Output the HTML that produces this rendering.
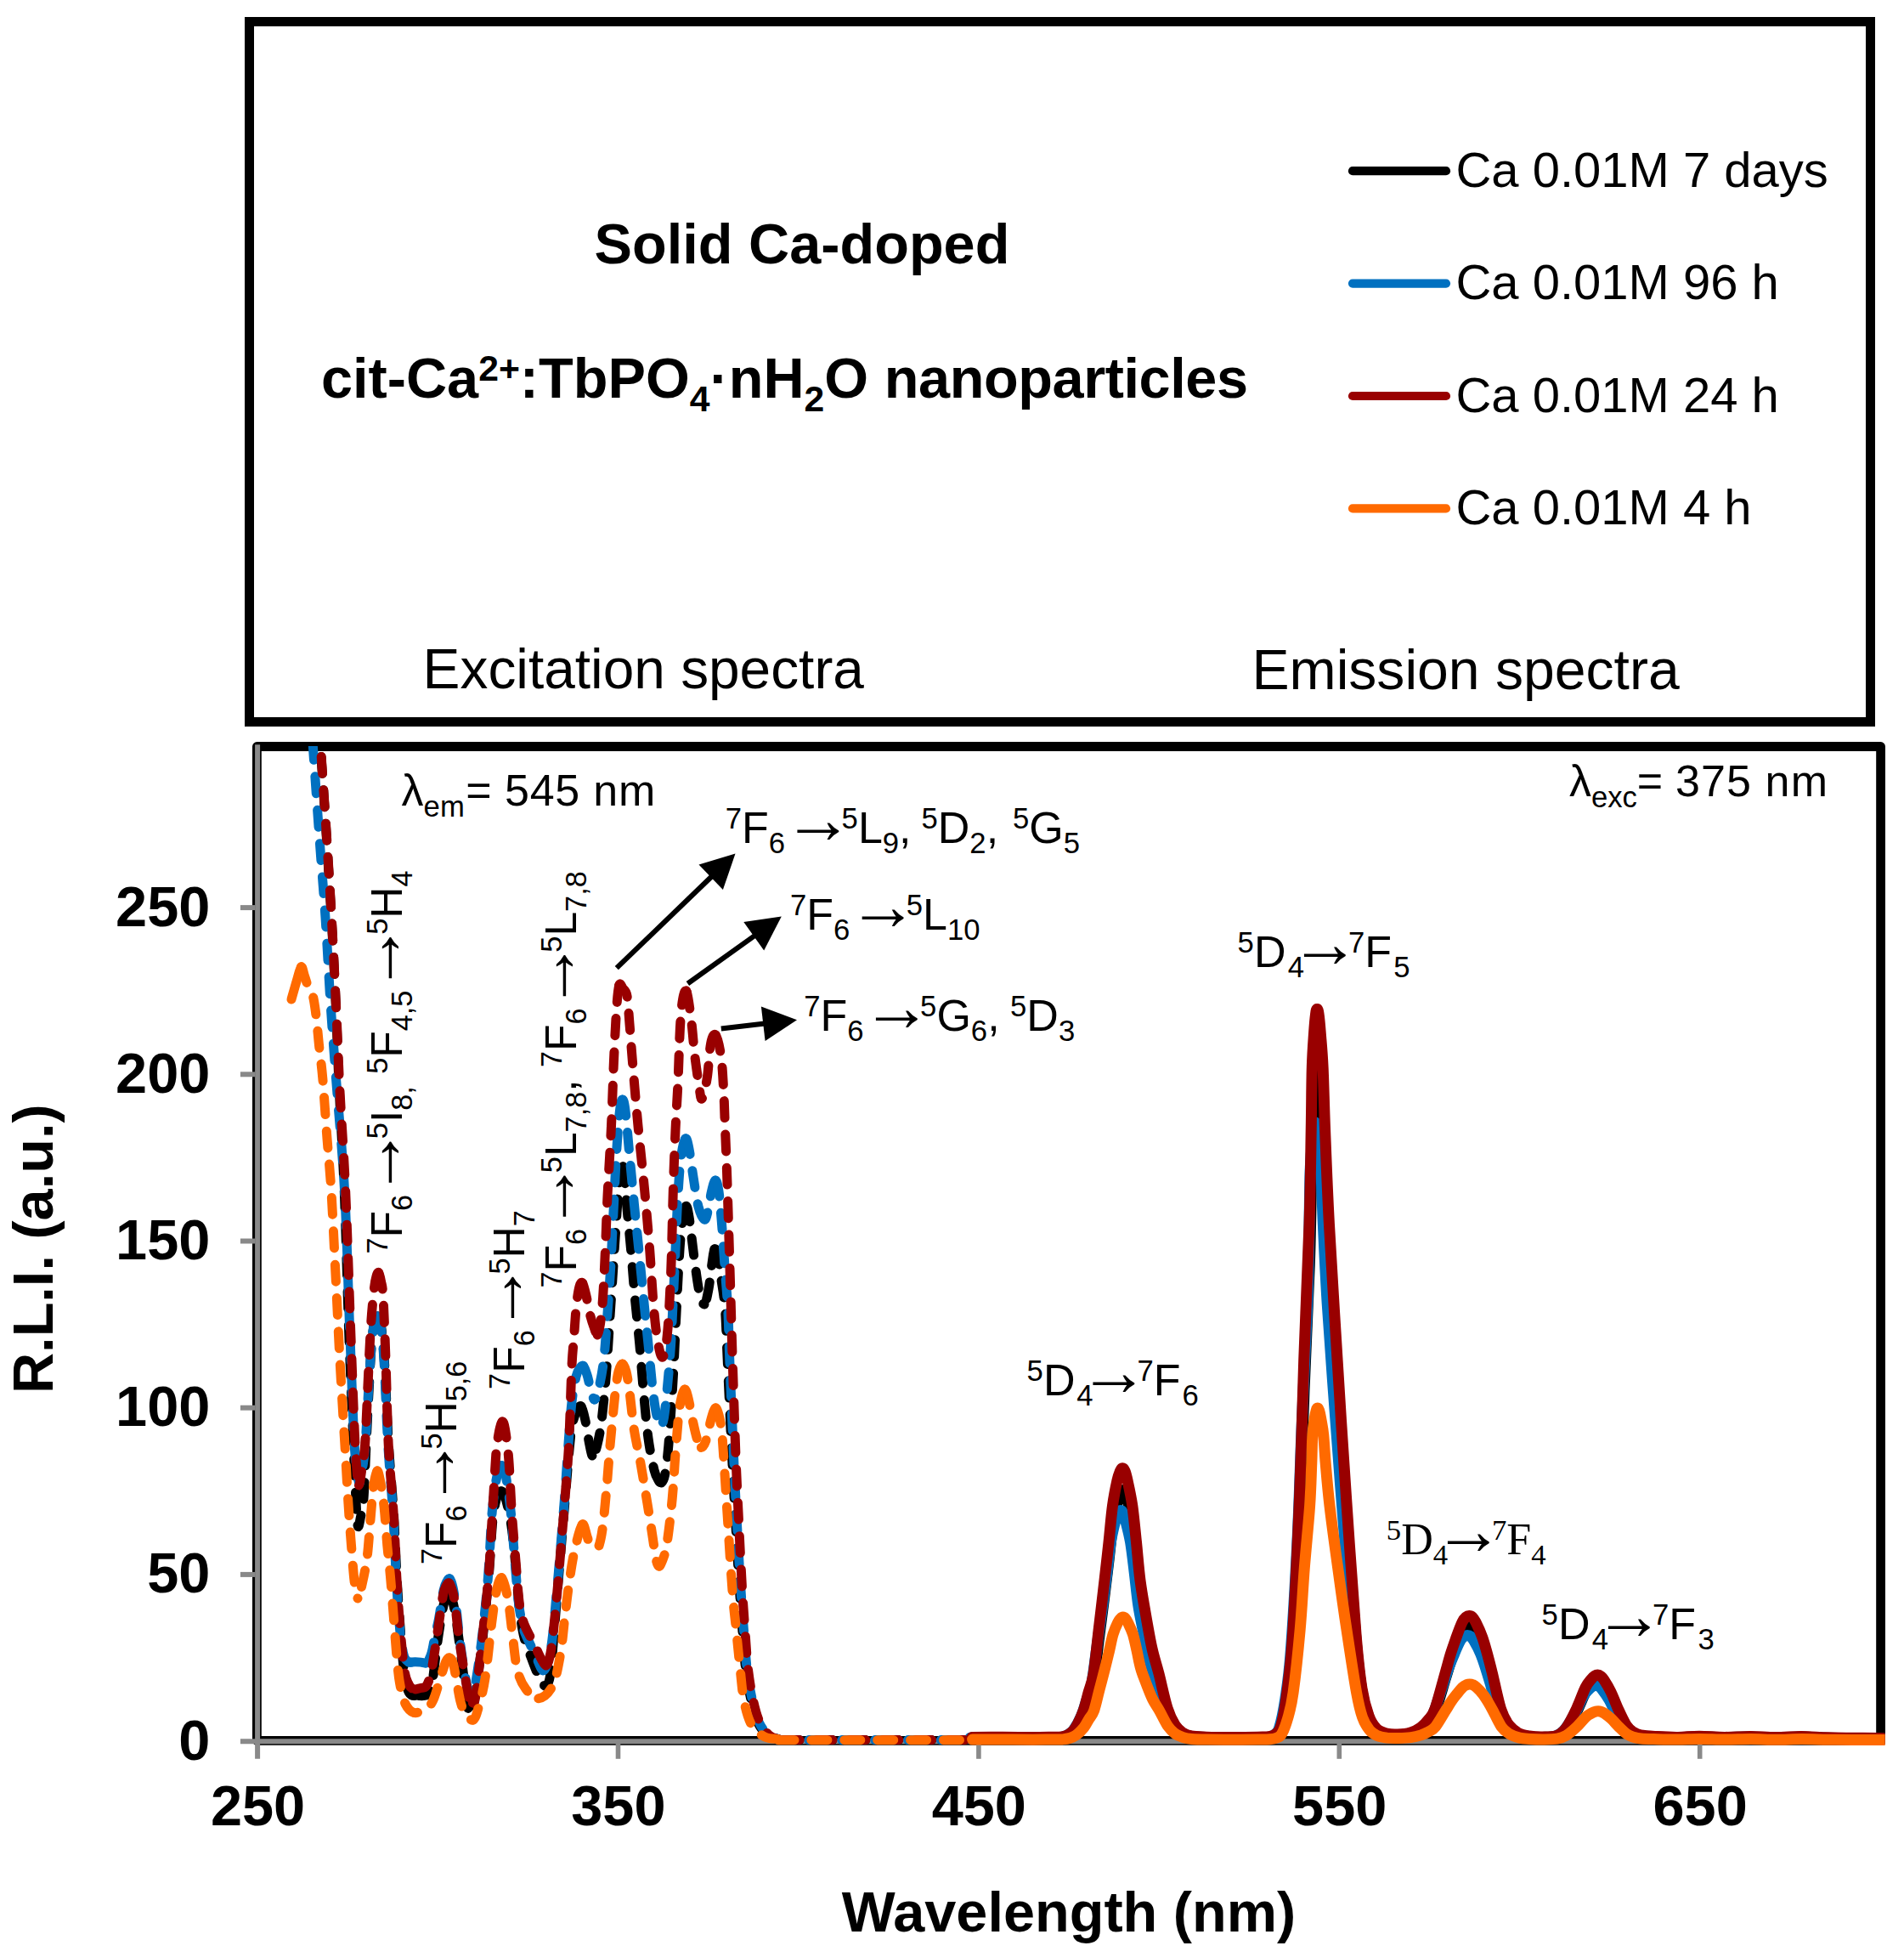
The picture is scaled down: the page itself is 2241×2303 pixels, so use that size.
<!DOCTYPE html>
<html lang="en"><head><meta charset="utf-8"><title>Solid Ca-doped cit-Ca2+:TbPO4·nH2O nanoparticles – excitation and emission spectra</title>
<style>html,body{margin:0;padding:0;background:#fff}body{width:2241px;height:2303px;overflow:hidden}svg{display:block}text{white-space:pre}</style>
</head><body>
<svg width="2241" height="2303" viewBox="0 0 2241 2303" font-family='"Liberation Sans", Arial, Helvetica, sans-serif' fill="#000">
<rect x="0" y="0" width="2241" height="2303" fill="#fff"/>
<rect x="293.5" y="25.5" width="1908" height="824" fill="none" stroke="#000" stroke-width="11"/>
<defs><clipPath id="pc"><rect x="302.4" y="878.0" width="1916.3" height="1181.9"/></clipPath></defs>
<rect x="302.4" y="878.5" width="1911.2" height="1169.9" fill="none" stroke="#000" stroke-width="10.8" stroke-linejoin="round"/>
<g stroke="#898989" stroke-width="6" fill="none">
<line x1="303.1" y1="876.3" x2="303.1" y2="2069.8"/>
<line x1="282.9" y1="2049.2" x2="2208.2" y2="2049.2"/>
<line x1="282.9" y1="1852.9" x2="300.2" y2="1852.9"/>
<line x1="282.9" y1="1656.7" x2="300.2" y2="1656.7"/>
<line x1="282.9" y1="1460.5" x2="300.2" y2="1460.5"/>
<line x1="282.9" y1="1264.3" x2="300.2" y2="1264.3"/>
<line x1="282.9" y1="1068.1" x2="300.2" y2="1068.1"/>
<line x1="727.5" y1="2052" x2="727.5" y2="2069.8" stroke-width="5.6"/>
<line x1="1151.9" y1="2052" x2="1151.9" y2="2069.8" stroke-width="5.6"/>
<line x1="1576.3" y1="2052" x2="1576.3" y2="2069.8" stroke-width="5.6"/>
<line x1="2000.7" y1="2052" x2="2000.7" y2="2069.8" stroke-width="5.6"/>
</g>
<g font-weight="bold" font-size="66.67">
<text x="247.3" y="2070.6" text-anchor="end">0</text>
<text x="247.3" y="1874.4" text-anchor="end">50</text>
<text x="247.3" y="1678.2" text-anchor="end">100</text>
<text x="247.3" y="1482.0" text-anchor="end">150</text>
<text x="247.3" y="1285.8" text-anchor="end">200</text>
<text x="247.3" y="1089.6" text-anchor="end">250</text>
<text x="303.5" y="2148.2" text-anchor="middle">250</text>
<text x="727.9" y="2148.2" text-anchor="middle">350</text>
<text x="1152.3" y="2148.2" text-anchor="middle">450</text>
<text x="1576.7" y="2148.2" text-anchor="middle">550</text>
<text x="2001.1" y="2148.2" text-anchor="middle">650</text>
<text x="1258" y="2273.4" text-anchor="middle">Wavelength (nm)</text>
<text transform="translate(61.6 1469.7) rotate(-90)" text-anchor="middle">R.L.I. (a.u.)</text>
</g>
<g clip-path="url(#pc)" fill="none" stroke-linecap="round" stroke-linejoin="round">
<g stroke="#000000" stroke-width="11" stroke-dasharray="20 19.4">
<path d="M378.0 890.5C379.1 906.2 382.3 953.4 384.3 985.0C386.3 1016.6 388.2 1046.7 390.1 1080.0C392.0 1113.3 393.9 1151.7 395.4 1185.0C396.9 1218.3 397.6 1244.2 399.2 1280.0C400.8 1315.8 403.3 1353.3 405.2 1400.0C407.1 1446.7 408.7 1511.7 410.4 1560.0C412.1 1608.3 414.3 1658.3 415.6 1690.0C416.9 1721.7 417.3 1732.5 418.2 1750.0C419.1 1767.5 419.9 1789.2 421.0 1795.0" stroke-dashoffset="0.0"/>
<path d="M421.0 1795.0C422.1 1800.8 423.3 1790.2 424.5 1785.0C425.7 1779.8 426.9 1777.7 428.0 1763.5C429.1 1749.3 429.9 1722.2 431.0 1700.0C432.1 1677.8 433.4 1650.0 434.5 1630.0C435.6 1610.0 436.4 1592.3 437.5 1580.0C438.6 1567.7 439.8 1561.2 441.0 1556.0C442.2 1550.8 443.4 1549.0 444.5 1549.0" stroke-dashoffset="4.4"/>
<path d="M444.5 1549.0C445.6 1549.0 446.6 1552.2 447.5 1556.0C448.4 1559.8 449.1 1562.7 450.0 1572.0C450.9 1581.3 451.8 1590.7 453.0 1612.0C454.2 1633.3 455.7 1671.7 457.4 1700.0C459.1 1728.3 461.8 1756.2 463.4 1782.0C465.0 1807.8 465.8 1833.6 467.0 1855.0C468.2 1876.4 469.3 1892.1 470.7 1910.6C472.1 1929.0 473.7 1952.1 475.5 1965.7C477.3 1979.3 478.6 1987.0 481.5 1992.0C484.4 1997.0 489.0 1995.3 493.0 1995.5" stroke-dashoffset="0.0"/>
<path d="M493.0 1995.5C497.0 1995.7 502.6 1996.4 505.4 1993.0C508.1 1989.6 508.2 1982.6 509.5 1975.0C510.8 1967.4 511.7 1957.4 513.0 1947.4C514.3 1937.4 515.8 1925.4 517.5 1915.0C519.2 1904.6 521.2 1891.7 523.0 1885.0C524.8 1878.3 526.5 1875.5 528.0 1875.0" stroke-dashoffset="3.9"/>
<path d="M528.0 1875.0C529.5 1874.5 530.7 1877.8 532.0 1882.0C533.3 1886.2 534.5 1891.0 536.0 1900.0C537.5 1909.0 539.2 1922.3 541.0 1936.0C542.8 1949.7 545.4 1970.0 547.0 1982.0C548.6 1994.0 549.4 2002.5 550.5 2008.0C551.6 2013.5 552.4 2015.0 553.5 2015.0" stroke-dashoffset="0.0"/>
<path d="M553.5 2015.0C554.6 2015.0 555.6 2014.7 557.0 2008.0C558.4 2001.3 560.2 1988.2 562.0 1975.0C563.8 1961.8 565.8 1948.9 568.0 1929.0C570.2 1909.1 573.2 1878.6 575.2 1855.4C577.2 1832.2 578.3 1805.1 579.8 1790.0C581.3 1774.9 582.7 1770.5 584.0 1765.0C585.3 1759.5 586.4 1758.7 587.5 1757.0C588.6 1755.3 589.5 1754.5 590.6 1755.0" stroke-dashoffset="29.9"/>
<path d="M590.6 1755.0C591.7 1755.5 592.8 1756.7 594.0 1760.0C595.2 1763.3 596.6 1768.3 598.0 1775.0C599.4 1781.7 601.0 1788.7 602.5 1800.0C604.0 1811.3 605.6 1828.0 607.0 1843.0C608.4 1858.0 609.7 1877.5 611.0 1890.0C612.3 1902.5 613.7 1910.7 615.0 1918.0C616.3 1925.3 617.3 1928.7 619.0 1934.0C620.7 1939.3 622.8 1944.3 625.0 1950.0C627.2 1955.7 629.8 1963.0 632.0 1968.0C634.2 1973.0 636.2 1977.3 638.0 1980.0C639.8 1982.7 641.4 1985.3 643.0 1984.0" stroke-dashoffset="0.0"/>
<path d="M643.0 1984.0C644.6 1982.7 646.2 1980.2 647.5 1972.0C648.8 1963.8 649.6 1951.4 651.0 1935.0C652.4 1918.6 654.4 1893.2 656.0 1873.8C657.6 1854.4 659.1 1837.1 660.6 1818.7C662.1 1800.3 663.7 1781.3 665.2 1763.5C666.7 1745.7 668.2 1725.9 669.5 1712.0C670.8 1698.1 671.6 1688.3 673.0 1680.0C674.4 1671.7 676.2 1666.2 678.0 1662.0C679.8 1657.8 682.2 1653.3 684.0 1655.0" stroke-dashoffset="0.1"/>
<path d="M684.0 1655.0C685.8 1656.7 687.4 1664.8 689.0 1672.0C690.6 1679.2 692.0 1691.0 693.5 1698.0C695.0 1705.0 696.2 1713.3 697.7 1714.0" stroke-dashoffset="0.0"/>
<path d="M697.7 1714.0C699.2 1714.7 700.8 1708.7 702.5 1702.0C704.2 1695.3 706.0 1687.8 707.8 1674.0C709.6 1660.2 711.8 1637.4 713.3 1619.0C714.8 1600.6 715.8 1582.2 717.0 1563.8C718.2 1545.4 719.5 1527.1 720.7 1508.7C721.9 1490.3 723.1 1471.6 724.3 1453.5C725.5 1435.4 726.9 1412.2 728.0 1400.0C729.1 1387.8 729.9 1384.5 730.8 1380.0C731.7 1375.5 732.7 1372.2 733.4 1373.0" stroke-dashoffset="29.8"/>
<path d="M733.4 1373.0C734.1 1373.8 734.5 1377.7 735.2 1385.0C735.9 1392.3 736.2 1402.3 737.5 1416.8C738.8 1431.3 741.1 1453.6 742.7 1472.0C744.3 1490.4 745.6 1508.7 747.3 1527.0C749.0 1545.3 751.1 1563.6 752.8 1582.0C754.5 1600.4 755.7 1619.0 757.4 1637.4C759.1 1655.8 760.9 1677.1 763.0 1692.5C765.1 1707.9 768.0 1721.8 770.0 1730.0C772.0 1738.2 773.6 1739.5 775.0 1742.0C776.4 1744.5 777.1 1746.0 778.4 1745.0" stroke-dashoffset="0.0"/>
<path d="M778.4 1745.0C779.6 1744.0 781.1 1743.2 782.5 1736.0C783.9 1728.8 785.1 1721.2 786.8 1701.7C788.4 1682.2 790.9 1645.0 792.4 1619.0C793.9 1593.0 794.9 1566.9 796.0 1545.4C797.1 1524.0 797.8 1506.7 798.8 1490.3C799.8 1473.9 800.6 1458.7 802.0 1447.0C803.4 1435.3 805.5 1422.5 807.0 1420.0" stroke-dashoffset="7.8"/>
<path d="M807.0 1420.0C808.5 1417.5 809.3 1422.0 811.0 1432.0C812.7 1442.0 815.0 1465.3 817.0 1480.0C819.0 1494.7 821.0 1510.8 823.0 1520.0C825.0 1529.2 827.2 1535.5 829.0 1535.0" stroke-dashoffset="0.0"/>
<path d="M829.0 1535.0C830.8 1534.5 832.5 1525.0 834.0 1517.0C835.5 1509.0 836.8 1494.8 838.0 1487.0C839.2 1479.2 839.8 1471.5 841.0 1470.0" stroke-dashoffset="32.3"/>
<path d="M841.0 1470.0C842.2 1468.5 843.7 1472.2 845.0 1478.0C846.3 1483.8 847.4 1494.7 848.8 1505.0C850.2 1515.3 852.2 1524.1 853.4 1540.0C854.6 1555.9 854.9 1572.1 856.2 1600.6C857.5 1629.1 859.8 1679.0 861.4 1710.9C863.0 1742.8 864.3 1766.2 865.8 1792.0C867.2 1817.8 868.7 1844.0 870.1 1865.4C871.5 1886.8 872.7 1903.8 874.0 1920.6C875.3 1937.4 876.2 1952.7 878.0 1966.5C879.8 1980.3 882.3 1993.2 884.6 2003.3C886.9 2013.4 888.9 2020.5 892.0 2027.0C895.1 2033.5 899.0 2038.7 903.0 2042.0C907.0 2045.3 913.8 2045.8 916.0 2046.6" stroke-dashoffset="0.0"/>
</g>
<path d="M916 2047.6H1146" stroke="#000000" stroke-width="11" stroke-dasharray="19 19.9" stroke-dashoffset="32.9"/>
<path d="M1144.3 2044.9C1150.3 2044.8 1168.5 2044.6 1180.3 2044.6C1192.1 2044.6 1205.3 2045.0 1215.3 2045.0C1225.3 2045.0 1234.5 2044.7 1240.3 2044.6C1246.1 2044.5 1247.3 2044.9 1250.3 2044.4C1253.3 2043.9 1255.6 2043.4 1258.3 2041.7C1261.0 2040.0 1263.5 2038.5 1266.3 2034.3C1269.1 2030.1 1272.8 2022.7 1275.3 2016.5C1277.8 2010.2 1279.3 2003.3 1281.3 1996.6C1283.3 1989.9 1285.2 1987.9 1287.3 1976.1C1289.4 1964.3 1291.6 1942.6 1293.8 1925.7C1296.0 1908.9 1298.4 1890.3 1300.3 1875.0C1302.2 1859.6 1303.7 1847.2 1305.3 1833.7C1306.9 1820.3 1308.1 1805.3 1309.8 1794.1C1311.5 1782.9 1313.8 1772.9 1315.3 1766.6C1316.8 1760.3 1317.8 1758.6 1318.8 1756.5C1319.8 1754.3 1320.5 1753.5 1321.4 1753.5C1322.3 1753.5 1323.3 1754.3 1324.3 1756.5C1325.3 1758.6 1325.8 1760.3 1327.3 1766.6C1328.8 1772.9 1331.3 1782.9 1333.1 1794.1C1334.8 1805.3 1336.3 1820.3 1337.8 1833.7C1339.3 1847.2 1340.5 1862.4 1342.3 1875.0C1344.0 1887.5 1346.0 1896.9 1348.3 1909.2C1350.6 1921.5 1353.6 1937.6 1356.3 1948.7C1359.0 1959.9 1361.3 1965.3 1364.3 1976.1C1367.3 1986.8 1371.1 2003.9 1374.3 2013.1C1377.5 2022.4 1380.3 2027.1 1383.3 2031.5C1386.3 2036.0 1389.1 2037.8 1392.3 2039.8C1395.5 2041.8 1397.6 2042.7 1402.3 2043.5C1407.0 2044.3 1412.3 2044.4 1420.3 2044.6C1428.3 2044.9 1440.3 2045.0 1450.3 2045.0C1460.3 2045.0 1473.0 2044.8 1480.3 2044.6C1487.6 2044.5 1490.6 2044.7 1494.3 2044.1C1498.0 2043.4 1500.0 2042.8 1502.3 2040.7C1504.6 2038.7 1506.1 2039.2 1508.3 2031.5C1510.5 2023.9 1513.0 2011.2 1515.3 1994.7C1517.5 1978.3 1519.4 1968.1 1521.8 1933.1C1524.2 1898.1 1527.6 1834.4 1529.8 1785.0C1532.0 1735.6 1533.1 1686.2 1535.0 1636.9C1536.9 1587.5 1539.9 1530.3 1541.3 1488.7C1542.7 1447.2 1543.0 1415.8 1543.5 1387.5C1544.0 1359.3 1544.0 1337.1 1544.6 1319.5C1545.2 1301.8 1546.2 1291.4 1546.9 1281.7C1547.6 1272.1 1548.3 1265.7 1548.9 1261.5C1549.5 1257.3 1549.9 1256.4 1550.5 1256.4C1551.1 1256.4 1551.6 1257.3 1552.3 1261.5C1553.0 1265.7 1553.7 1272.1 1554.5 1281.7C1555.3 1291.4 1556.5 1301.8 1557.4 1319.5C1558.3 1337.1 1558.7 1359.3 1559.9 1387.5C1561.1 1415.8 1562.3 1447.2 1564.7 1488.7C1567.1 1530.3 1571.0 1587.5 1574.4 1636.9C1577.7 1686.2 1581.1 1735.6 1584.8 1785.0C1588.5 1834.4 1593.2 1898.6 1596.3 1933.1C1599.4 1967.6 1600.8 1977.3 1603.3 1992.0C1605.8 2006.7 1608.5 2014.2 1611.3 2021.4C1614.1 2028.6 1616.8 2032.0 1620.3 2035.2C1623.8 2038.4 1628.1 2039.7 1632.3 2040.7C1636.5 2041.8 1640.6 2041.8 1645.3 2041.7C1650.0 2041.5 1655.8 2041.1 1660.3 2039.8C1664.8 2038.6 1668.8 2036.6 1672.3 2034.3C1675.8 2032.0 1678.5 2029.4 1681.3 2026.0C1684.1 2022.7 1686.0 2022.5 1689.3 2014.1C1692.6 2005.6 1698.2 1985.4 1701.3 1975.4C1704.4 1965.5 1705.6 1960.7 1707.8 1954.3C1710.0 1947.8 1712.0 1942.5 1714.3 1936.8C1716.5 1931.1 1719.4 1923.9 1721.3 1920.2C1723.2 1916.5 1724.4 1915.8 1725.8 1914.7C1727.2 1913.6 1728.2 1913.4 1729.5 1913.4C1730.8 1913.4 1732.0 1913.6 1733.3 1914.7C1734.6 1915.8 1735.3 1916.5 1737.3 1920.2C1739.3 1923.9 1742.8 1930.8 1745.1 1936.8C1747.4 1942.8 1749.4 1949.7 1751.3 1956.1C1753.2 1962.5 1754.1 1965.8 1756.7 1975.4C1759.3 1985.1 1763.5 2004.7 1766.8 2014.1C1770.1 2023.4 1772.7 2027.1 1776.3 2031.5C1779.9 2036.0 1784.3 2038.8 1788.3 2040.7C1792.3 2042.7 1795.8 2042.9 1800.3 2043.5C1804.8 2044.1 1810.0 2044.5 1815.3 2044.4C1820.6 2044.3 1827.6 2044.6 1832.3 2043.0C1837.0 2041.5 1839.4 2040.1 1843.3 2035.2C1847.2 2030.4 1852.0 2021.4 1855.8 2014.1C1859.6 2006.7 1863.4 1996.4 1866.3 1991.1C1869.2 1985.7 1871.5 1984.0 1873.3 1981.9C1875.1 1979.7 1876.0 1979.1 1877.3 1978.4C1878.5 1977.6 1879.6 1977.2 1880.8 1977.3C1882.0 1977.3 1883.0 1977.7 1884.3 1978.6C1885.5 1979.6 1886.3 1979.9 1888.3 1982.8C1890.3 1985.6 1893.5 1990.5 1896.3 1995.7C1899.0 2000.9 1901.8 2008.1 1904.8 2014.1C1907.8 2020.0 1911.4 2027.4 1914.3 2031.5C1917.2 2035.7 1919.5 2037.1 1922.3 2038.9C1925.1 2040.7 1926.6 2041.7 1931.3 2042.6C1936.0 2043.4 1943.0 2043.7 1950.3 2044.1C1957.6 2044.4 1967.0 2044.9 1975.3 2044.8C1983.6 2044.7 1991.1 2043.7 2000.3 2043.7C2009.5 2043.7 2020.3 2044.8 2030.3 2044.8C2040.3 2044.8 2050.3 2043.8 2060.3 2043.9C2070.3 2043.9 2080.3 2045.0 2090.3 2045.0C2100.3 2045.0 2110.3 2043.8 2120.3 2043.9C2130.3 2043.9 2140.3 2044.9 2150.3 2045.2C2160.3 2045.4 2170.0 2045.4 2180.3 2045.5C2190.6 2045.7 2204.3 2045.8 2212.3 2045.9C2220.3 2046.0 2225.6 2045.9 2228.3 2045.9" stroke="#000000" stroke-width="13"/>
<g stroke="#0070C0" stroke-width="11" stroke-dasharray="20 19.4">
<path d="M368.1 874.5C369.5 894.8 374.2 961.8 376.7 996.0C379.2 1030.2 380.9 1048.5 383.0 1080.0C385.1 1111.5 387.2 1153.5 389.3 1185.0C391.4 1216.5 392.8 1233.2 395.5 1269.0C398.2 1304.8 402.8 1351.5 405.5 1400.0C408.2 1448.5 409.6 1511.7 411.5 1560.0C413.4 1608.3 415.2 1662.0 416.6 1690.0C418.0 1718.0 418.9 1718.8 420.0 1728.0C421.1 1737.2 421.9 1745.0 423.0 1745.0" stroke-dashoffset="0.0"/>
<path d="M423.0 1745.0C424.1 1745.0 425.3 1735.5 426.5 1728.0C427.7 1720.5 428.8 1716.3 430.0 1700.0C431.2 1683.7 432.8 1650.0 434.0 1630.0C435.2 1610.0 436.4 1592.2 437.5 1580.0C438.6 1567.8 439.4 1562.2 440.5 1557.0C441.6 1551.8 442.7 1549.2 443.8 1549.0" stroke-dashoffset="18.9"/>
<path d="M443.8 1549.0C444.9 1548.8 446.1 1552.5 447.0 1556.0C447.9 1559.5 448.6 1561.0 449.5 1570.0C450.4 1579.0 451.3 1588.3 452.5 1610.0C453.7 1631.7 455.0 1671.3 456.7 1700.0C458.4 1728.7 461.1 1756.2 462.7 1782.0C464.3 1807.8 465.1 1833.6 466.3 1855.0C467.5 1876.4 468.6 1895.6 470.0 1910.6C471.4 1925.6 473.0 1937.7 474.5 1945.0C476.0 1952.3 477.2 1952.6 479.0 1954.5C480.8 1956.4 483.0 1956.1 485.0 1956.6C487.0 1957.0 489.0 1957.0 491.0 1957.2C493.0 1957.4 495.2 1957.5 497.0 1957.6C498.8 1957.7 500.2 1960.0 502.0 1957.9" stroke-dashoffset="0.0"/>
<path d="M502.0 1957.9C503.8 1955.8 506.3 1950.5 508.0 1945.0C509.7 1939.5 510.6 1931.7 512.0 1925.0C513.4 1918.3 514.8 1913.8 516.5 1905.0C518.2 1896.2 520.4 1879.3 522.0 1872.0C523.6 1864.7 524.8 1863.3 526.0 1861.0C527.2 1858.7 528.1 1856.8 529.3 1858.0" stroke-dashoffset="32.6"/>
<path d="M529.3 1858.0C530.5 1859.2 531.7 1862.2 533.0 1868.0C534.3 1873.8 535.7 1882.8 537.0 1893.0C538.3 1903.2 539.3 1916.2 541.0 1929.0C542.7 1941.8 545.3 1960.2 547.0 1970.0C548.7 1979.8 549.7 1984.1 551.0 1988.0C552.3 1991.9 553.7 1993.8 555.0 1993.3" stroke-dashoffset="0.0"/>
<path d="M555.0 1993.3C556.3 1992.8 557.0 1995.7 559.0 1985.0C561.0 1974.3 564.5 1950.6 567.1 1929.0C569.7 1907.4 572.5 1879.9 574.5 1855.4C576.5 1830.9 577.5 1800.4 579.0 1782.0C580.5 1763.6 582.2 1753.7 583.5 1745.0C584.8 1736.3 585.8 1733.4 587.0 1730.0C588.2 1726.6 589.4 1724.4 590.6 1724.6" stroke-dashoffset="22.0"/>
<path d="M590.6 1724.6C591.8 1724.8 592.9 1726.8 594.0 1731.0C595.1 1735.2 596.2 1741.5 597.5 1750.0C598.8 1758.5 600.1 1767.5 601.5 1782.0C602.9 1796.5 604.6 1820.2 606.0 1837.0C607.4 1853.8 608.7 1871.2 610.0 1883.0C611.3 1894.8 612.7 1901.5 614.0 1908.0C615.3 1914.5 616.3 1917.5 618.0 1922.0C619.7 1926.5 621.8 1930.3 624.0 1935.0C626.2 1939.7 628.5 1944.9 631.0 1950.0C633.5 1955.1 636.7 1964.9 639.0 1965.7" stroke-dashoffset="0.0"/>
<path d="M639.0 1965.7C641.3 1966.5 643.2 1961.1 645.0 1955.0C646.8 1948.9 648.3 1942.5 650.0 1929.0C651.7 1915.5 653.6 1892.2 655.3 1873.8C657.0 1855.4 658.5 1837.1 660.0 1818.7C661.5 1800.3 663.0 1783.5 664.5 1763.5C666.0 1743.5 667.6 1717.9 669.0 1699.0C670.4 1680.1 671.5 1663.2 673.0 1650.0C674.5 1636.8 676.4 1626.7 678.0 1620.0C679.6 1613.3 681.0 1612.1 682.5 1610.0C684.0 1607.9 685.3 1606.3 686.7 1607.6" stroke-dashoffset="8.0"/>
<path d="M686.7 1607.6C688.1 1608.9 689.5 1613.3 691.0 1618.0C692.5 1622.7 694.1 1631.2 695.5 1636.0C696.9 1640.8 698.1 1646.8 699.5 1647.0" stroke-dashoffset="0.0"/>
<path d="M699.5 1647.0C700.9 1647.2 702.1 1644.7 704.0 1637.0C705.9 1629.3 708.8 1615.9 710.6 1600.6C712.4 1585.3 713.6 1563.8 715.0 1545.4C716.4 1527.0 717.5 1511.4 718.8 1490.0C720.0 1468.6 721.3 1440.1 722.5 1416.8C723.7 1393.5 724.8 1368.3 726.0 1350.0C727.2 1331.7 728.4 1316.3 729.5 1307.0C730.6 1297.7 731.5 1294.0 732.6 1294.0" stroke-dashoffset="18.3"/>
<path d="M732.6 1294.0C733.7 1294.0 734.6 1296.0 736.0 1307.0C737.4 1318.0 739.3 1341.7 741.0 1360.0C742.7 1378.3 744.6 1398.1 746.4 1416.8C748.2 1435.5 750.2 1453.6 752.0 1472.0C753.8 1490.4 755.6 1508.7 757.4 1527.0C759.2 1545.3 761.1 1563.6 763.0 1582.0C764.9 1600.4 766.8 1623.4 768.5 1637.4C770.2 1651.4 771.5 1659.3 773.0 1666.0C774.5 1672.7 776.2 1677.5 777.6 1677.8" stroke-dashoffset="0.0"/>
<path d="M777.6 1677.8C779.0 1678.1 780.3 1674.7 781.5 1668.0C782.7 1661.3 783.6 1651.7 785.0 1637.4C786.4 1623.1 788.4 1600.4 789.6 1582.0C790.8 1563.6 791.5 1545.3 792.4 1527.0C793.3 1508.7 794.1 1491.9 795.0 1472.0C795.9 1452.1 796.8 1425.9 797.9 1407.6C799.0 1389.3 800.0 1373.3 801.5 1362.0C803.0 1350.7 805.1 1341.7 806.7 1340.0" stroke-dashoffset="34.1"/>
<path d="M806.7 1340.0C808.3 1338.3 809.5 1344.5 811.0 1352.0C812.5 1359.5 814.2 1373.7 816.0 1385.0C817.8 1396.3 819.8 1411.7 822.0 1420.0C824.2 1428.3 827.2 1434.0 829.0 1435.0" stroke-dashoffset="0.0"/>
<path d="M829.0 1435.0C830.8 1436.0 831.6 1431.5 833.0 1426.0C834.4 1420.5 836.0 1408.2 837.5 1402.0C839.0 1395.8 840.6 1389.0 842.0 1389.0" stroke-dashoffset="10.4"/>
<path d="M842.0 1389.0C843.4 1389.0 844.8 1393.5 846.0 1402.0C847.2 1410.5 848.3 1425.3 849.5 1440.0C850.7 1454.7 851.8 1473.3 853.0 1490.0C854.2 1506.7 855.7 1521.6 856.7 1540.0C857.7 1558.4 857.7 1572.1 858.8 1600.6C859.9 1629.1 862.0 1679.0 863.4 1710.9C864.8 1742.8 866.0 1766.2 867.4 1792.0C868.8 1817.8 870.2 1844.0 871.6 1865.4C873.0 1886.8 874.3 1903.8 875.6 1920.6C876.9 1937.4 877.8 1952.7 879.5 1966.5C881.2 1980.3 883.7 1993.2 886.0 2003.3C888.3 2013.4 890.3 2020.5 893.4 2027.0C896.5 2033.5 900.6 2038.7 904.4 2042.0C908.2 2045.3 914.1 2045.8 916.0 2046.6" stroke-dashoffset="0.0"/>
<path d="M481 1956.2C488 1955.2 494 1955.4 501 1957.2" stroke-dasharray="none"/>
</g>
<path d="M916 2047.6H1146" stroke="#0070C0" stroke-width="11" stroke-dasharray="19 19.9" stroke-dashoffset="3"/>
<path d="M1141.8 2045.2C1147.8 2045.2 1166.0 2045.0 1177.8 2045.0C1189.6 2045.0 1202.8 2045.3 1212.8 2045.3C1222.8 2045.3 1232.0 2045.1 1237.8 2045.0C1243.6 2044.9 1244.8 2045.3 1247.8 2044.8C1250.8 2044.4 1253.1 2043.8 1255.8 2042.3C1258.5 2040.7 1261.0 2039.4 1263.8 2035.5C1266.6 2031.7 1270.3 2024.9 1272.8 2019.1C1275.3 2013.4 1276.8 2007.1 1278.8 2000.9C1280.8 1994.7 1282.7 1992.9 1284.8 1982.0C1286.9 1971.2 1289.1 1951.3 1291.3 1935.8C1293.5 1920.3 1295.9 1903.3 1297.8 1889.2C1299.7 1875.1 1301.2 1863.7 1302.8 1851.3C1304.4 1838.9 1305.6 1825.2 1307.3 1814.9C1309.0 1804.6 1311.3 1795.4 1312.8 1789.6C1314.3 1783.9 1315.3 1782.3 1316.3 1780.3C1317.3 1778.3 1318.0 1777.6 1318.9 1777.6C1319.8 1777.6 1320.8 1778.3 1321.8 1780.3C1322.8 1782.3 1323.3 1783.9 1324.8 1789.6C1326.3 1795.4 1328.8 1804.6 1330.6 1814.9C1332.3 1825.2 1333.8 1838.9 1335.3 1851.3C1336.8 1863.7 1338.0 1877.6 1339.8 1889.2C1341.5 1900.7 1343.5 1909.3 1345.8 1920.6C1348.1 1931.9 1351.1 1946.7 1353.8 1956.9C1356.5 1967.2 1358.8 1972.2 1361.8 1982.0C1364.8 1991.9 1368.6 2007.6 1371.8 2016.1C1375.0 2024.6 1377.8 2028.9 1380.8 2033.0C1383.8 2037.1 1386.6 2038.8 1389.8 2040.6C1393.0 2042.4 1395.1 2043.2 1399.8 2044.0C1404.5 2044.7 1409.8 2044.8 1417.8 2045.0C1425.8 2045.2 1437.8 2045.3 1447.8 2045.3C1457.8 2045.3 1470.5 2045.1 1477.8 2045.0C1485.1 2044.8 1488.1 2045.1 1491.8 2044.5C1495.5 2043.9 1497.5 2043.4 1499.8 2041.4C1502.1 2039.5 1503.6 2040.0 1505.8 2033.0C1508.0 2025.9 1510.5 2014.3 1512.8 1999.2C1515.0 1984.1 1516.9 1974.7 1519.3 1942.6C1521.7 1910.5 1525.1 1851.9 1527.3 1806.5C1529.5 1761.2 1530.6 1715.8 1532.5 1670.5C1534.4 1625.1 1537.4 1572.6 1538.8 1534.4C1540.2 1496.3 1540.5 1467.4 1541.0 1441.5C1541.5 1415.6 1541.5 1395.2 1542.1 1379.0C1542.7 1362.8 1543.7 1353.2 1544.4 1344.3C1545.1 1335.4 1545.8 1329.6 1546.4 1325.7C1547.0 1321.8 1547.4 1321.0 1548.0 1321.0C1548.6 1321.0 1549.1 1321.8 1549.8 1325.7C1550.5 1329.6 1551.2 1335.4 1552.0 1344.3C1552.8 1353.2 1554.0 1362.8 1554.9 1379.0C1555.8 1395.2 1556.2 1415.6 1557.4 1441.5C1558.6 1467.4 1559.8 1496.3 1562.2 1534.4C1564.6 1572.6 1568.5 1625.1 1571.9 1670.5C1575.2 1715.8 1578.6 1761.2 1582.3 1806.5C1586.0 1851.9 1590.7 1910.9 1593.8 1942.6C1596.9 1974.3 1598.3 1983.1 1600.8 1996.7C1603.3 2010.2 1606.0 2017.1 1608.8 2023.7C1611.6 2030.3 1614.3 2033.4 1617.8 2036.4C1621.3 2039.3 1625.6 2040.5 1629.8 2041.4C1634.0 2042.4 1638.1 2042.4 1642.8 2042.3C1647.5 2042.1 1653.3 2041.7 1657.8 2040.6C1662.3 2039.5 1666.3 2037.6 1669.8 2035.5C1673.3 2033.4 1676.0 2031.0 1678.8 2027.9C1681.6 2024.8 1683.5 2024.7 1686.8 2016.9C1690.1 2009.2 1695.7 1990.6 1698.8 1981.4C1701.9 1972.3 1703.1 1967.9 1705.3 1962.0C1707.5 1956.1 1709.5 1951.2 1711.8 1946.0C1714.0 1940.7 1716.9 1934.1 1718.8 1930.7C1720.7 1927.4 1721.9 1926.7 1723.3 1925.7C1724.7 1924.6 1725.8 1924.5 1727.0 1924.5C1728.2 1924.5 1729.5 1924.6 1730.8 1925.7C1732.1 1926.7 1732.8 1927.4 1734.8 1930.7C1736.8 1934.1 1740.3 1940.5 1742.6 1946.0C1744.9 1951.4 1746.9 1957.8 1748.8 1963.7C1750.7 1969.6 1751.6 1972.6 1754.2 1981.4C1756.8 1990.3 1761.0 2008.3 1764.3 2016.9C1767.6 2025.5 1770.2 2028.9 1773.8 2033.0C1777.4 2037.1 1781.8 2039.6 1785.8 2041.4C1789.8 2043.3 1793.3 2043.4 1797.8 2044.0C1802.3 2044.5 1807.5 2044.9 1812.8 2044.8C1818.1 2044.8 1825.1 2045.0 1829.8 2043.6C1834.5 2042.1 1836.9 2040.8 1840.8 2036.4C1844.7 2031.9 1849.5 2023.7 1853.3 2016.9C1857.1 2010.2 1860.9 2000.7 1863.8 1995.8C1866.7 1990.9 1869.0 1989.3 1870.8 1987.4C1872.6 1985.4 1873.5 1984.9 1874.8 1984.2C1876.0 1983.4 1877.1 1983.1 1878.3 1983.1C1879.5 1983.2 1880.5 1983.6 1881.8 1984.4C1883.0 1985.2 1883.8 1985.6 1885.8 1988.2C1887.8 1990.8 1891.0 1995.2 1893.8 2000.0C1896.5 2004.8 1899.3 2011.4 1902.3 2016.9C1905.3 2022.4 1908.9 2029.2 1911.8 2033.0C1914.7 2036.8 1917.0 2038.1 1919.8 2039.8C1922.6 2041.4 1924.1 2042.3 1928.8 2043.1C1933.5 2043.9 1940.5 2044.1 1947.8 2044.5C1955.1 2044.8 1964.5 2045.2 1972.8 2045.2C1981.1 2045.1 1988.6 2044.1 1997.8 2044.1C2007.0 2044.1 2017.8 2045.1 2027.8 2045.2C2037.8 2045.2 2047.8 2044.3 2057.8 2044.3C2067.8 2044.3 2077.8 2045.3 2087.8 2045.3C2097.8 2045.3 2107.8 2044.3 2117.8 2044.3C2127.8 2044.3 2137.8 2045.2 2147.8 2045.5C2157.8 2045.8 2167.5 2045.7 2177.8 2045.8C2188.1 2045.9 2201.8 2046.1 2209.8 2046.2C2217.8 2046.2 2223.1 2046.2 2225.8 2046.2" stroke="#0070C0" stroke-width="13"/>
<g stroke="#990000" stroke-width="11" stroke-dasharray="20 19.4">
<path d="M378.2 890.5C379.2 906.2 382.5 953.4 384.5 985.0C386.5 1016.6 388.4 1046.7 390.3 1080.0C392.2 1113.3 394.0 1151.7 395.6 1185.0C397.2 1218.3 398.0 1244.2 399.8 1280.0C401.6 1315.8 404.5 1353.3 406.6 1400.0C408.7 1446.7 410.7 1511.7 412.5 1560.0C414.3 1608.3 416.2 1661.7 417.5 1690.0C418.8 1718.3 419.2 1720.3 420.0 1730.0C420.8 1739.7 421.5 1748.3 422.5 1748.0" stroke-dashoffset="0.0"/>
<path d="M422.5 1748.0C423.5 1747.7 424.8 1736.0 426.0 1728.0C427.2 1720.0 428.4 1716.3 429.6 1700.0C430.8 1683.7 431.9 1653.3 433.0 1630.0C434.1 1606.7 435.3 1578.8 436.5 1560.0C437.7 1541.2 439.2 1526.7 440.3 1517.0C441.4 1507.3 442.1 1505.2 443.0 1502.0C443.9 1498.8 444.8 1496.7 445.7 1497.7" stroke-dashoffset="3.4"/>
<path d="M445.7 1497.7C446.6 1498.7 447.6 1503.1 448.5 1508.0C449.4 1512.9 450.1 1511.7 451.0 1527.0C451.9 1542.3 453.0 1571.2 454.0 1600.0C455.0 1628.8 455.7 1669.7 457.2 1700.0C458.7 1730.3 461.6 1756.2 463.2 1782.0C464.8 1807.8 465.6 1833.6 466.8 1855.0C468.0 1876.4 469.0 1892.1 470.5 1910.6C472.0 1929.0 474.2 1953.8 476.0 1965.7C477.8 1977.6 479.2 1978.3 481.0 1982.0C482.8 1985.7 484.7 1987.0 487.0 1987.8" stroke-dashoffset="0.0"/>
<path d="M487.0 1987.8C489.3 1988.5 492.5 1987.1 495.0 1986.5C497.5 1985.9 499.8 1986.8 501.8 1984.0C503.8 1981.2 505.5 1976.1 507.0 1970.0C508.5 1963.9 509.4 1957.3 511.0 1947.4C512.6 1937.5 514.7 1922.7 516.5 1910.6C518.3 1898.5 520.2 1882.9 522.0 1875.0C523.8 1867.1 526.0 1864.2 527.5 1863.0" stroke-dashoffset="37.2"/>
<path d="M527.5 1863.0C529.0 1861.8 529.8 1864.7 531.0 1868.0C532.2 1871.3 533.3 1872.8 534.9 1883.0C536.5 1893.2 538.3 1913.7 540.4 1929.0C542.5 1944.3 545.8 1963.5 547.7 1975.0C549.6 1986.5 550.6 1993.2 552.0 1998.0C553.4 2002.8 554.7 2004.5 556.0 2004.0" stroke-dashoffset="0.0"/>
<path d="M556.0 2004.0C557.3 2003.5 558.1 2007.5 560.0 1995.0C561.9 1982.5 565.1 1952.3 567.6 1929.0C570.1 1905.7 573.0 1879.9 575.0 1855.4C577.0 1830.9 578.0 1806.5 579.5 1782.0C581.0 1757.5 582.9 1723.4 584.0 1708.4C585.1 1693.4 585.5 1696.7 586.2 1692.0C587.0 1687.3 587.6 1683.2 588.5 1680.0C589.4 1676.8 590.4 1672.7 591.4 1673.0" stroke-dashoffset="39.1"/>
<path d="M591.4 1673.0C592.4 1673.3 593.3 1674.6 594.5 1682.0C595.7 1689.4 597.5 1700.9 598.8 1717.6C600.1 1734.3 601.1 1762.1 602.5 1782.0C603.9 1801.9 605.6 1820.2 607.0 1837.0C608.4 1853.8 609.5 1871.7 610.8 1883.0C612.1 1894.3 613.6 1899.5 615.0 1905.0C616.4 1910.5 617.4 1912.3 619.0 1916.0C620.6 1919.7 622.4 1922.7 624.6 1927.0C626.8 1931.3 629.8 1937.5 632.0 1942.0C634.2 1946.5 636.2 1951.0 638.0 1954.0C639.8 1957.0 641.5 1960.7 643.0 1960.0" stroke-dashoffset="0.0"/>
<path d="M643.0 1960.0C644.5 1959.3 645.8 1955.2 647.0 1950.0C648.2 1944.8 648.8 1941.7 650.3 1929.0C651.8 1916.3 654.1 1892.2 655.8 1873.8C657.5 1855.4 658.9 1837.1 660.4 1818.7C661.9 1800.3 663.5 1783.5 665.0 1763.5C666.5 1743.5 668.3 1724.6 669.6 1699.0C670.9 1673.4 671.9 1630.8 672.9 1609.8C673.9 1588.8 674.7 1585.2 675.6 1573.0C676.5 1560.8 677.3 1546.1 678.4 1536.3C679.5 1526.5 680.8 1518.4 682.0 1514.0C683.2 1509.6 684.4 1508.2 685.7 1510.0" stroke-dashoffset="37.1"/>
<path d="M685.7 1510.0C687.0 1511.8 688.5 1518.5 690.0 1525.0C691.5 1531.5 693.4 1542.7 695.0 1549.0C696.6 1555.3 698.1 1559.3 699.5 1563.0C700.9 1566.7 702.0 1571.8 703.2 1571.0" stroke-dashoffset="0.0"/>
<path d="M703.2 1571.0C704.4 1570.2 705.4 1565.3 706.5 1558.0C707.6 1550.7 708.6 1541.3 709.6 1527.0C710.6 1512.7 711.5 1491.9 712.4 1472.0C713.3 1452.1 713.8 1432.1 715.0 1407.6C716.2 1383.1 718.3 1351.3 719.5 1325.0C720.7 1298.7 721.4 1272.5 722.4 1250.0C723.4 1227.5 724.5 1205.1 725.5 1190.0C726.5 1174.9 727.5 1164.1 728.7 1159.6" stroke-dashoffset="1.3"/>
<path d="M728.7 1159.6C730.0 1155.1 731.5 1160.9 733.0 1163.0C734.5 1165.1 736.7 1165.0 738.0 1172.0C739.3 1179.0 739.9 1192.0 741.0 1205.0C742.1 1218.0 742.8 1230.0 744.5 1250.0C746.2 1270.0 748.6 1300.0 751.0 1325.0C753.4 1350.0 756.3 1375.5 758.6 1400.0C760.9 1424.5 763.1 1450.8 764.8 1472.0C766.4 1493.2 767.3 1511.7 768.5 1527.0C769.7 1542.3 770.8 1553.6 772.0 1563.8C773.2 1574.0 774.8 1582.5 776.0 1588.0C777.2 1593.5 778.3 1597.0 779.5 1597.0" stroke-dashoffset="0.0"/>
<path d="M779.5 1597.0C780.7 1597.0 781.9 1593.5 783.0 1588.0C784.1 1582.5 785.0 1575.5 786.0 1563.8C787.0 1552.1 788.0 1533.2 788.7 1517.9C789.5 1502.6 789.9 1491.9 790.5 1472.0C791.1 1452.1 791.6 1422.1 792.4 1398.4C793.1 1374.7 794.1 1350.8 795.0 1330.0C795.9 1309.2 797.1 1293.2 798.0 1273.3C798.9 1253.3 799.5 1226.5 800.4 1210.3C801.3 1194.1 802.3 1183.2 803.6 1176.0C804.9 1168.8 806.6 1163.0 808.3 1167.4" stroke-dashoffset="17.8"/>
<path d="M808.3 1167.4C810.0 1171.8 812.2 1190.0 813.8 1202.4C815.4 1214.8 816.1 1228.7 817.7 1241.8C819.3 1254.9 821.9 1272.7 823.2 1281.2C824.5 1289.7 824.6 1292.4 825.6 1293.0" stroke-dashoffset="0.0"/>
<path d="M825.6 1293.0C826.6 1293.6 827.8 1289.6 829.0 1285.0C830.2 1280.4 831.4 1274.9 832.7 1265.4C834.0 1255.9 835.0 1235.9 836.6 1228.0C838.2 1220.1 840.2 1215.6 842.2 1217.9" stroke-dashoffset="18.9"/>
<path d="M842.2 1217.9C844.2 1220.2 846.9 1231.2 848.5 1241.8C850.1 1252.3 850.8 1268.1 851.6 1281.2C852.4 1294.3 852.7 1307.5 853.2 1320.6C853.7 1333.7 854.3 1346.9 854.8 1360.0C855.3 1373.1 855.4 1374.2 856.2 1399.0C857.0 1423.8 858.5 1475.1 859.5 1508.7C860.5 1542.3 861.1 1566.9 862.2 1600.6C863.3 1634.3 864.7 1679.0 865.9 1710.9C867.1 1742.8 868.4 1766.2 869.6 1792.0C870.8 1817.8 872.1 1844.0 873.3 1865.4C874.5 1886.8 875.8 1903.8 877.0 1920.6C878.2 1937.4 879.0 1952.7 880.7 1966.5C882.4 1980.3 884.7 1993.2 887.0 2003.3C889.3 2013.4 891.3 2020.5 894.4 2027.0C897.5 2033.5 901.8 2038.7 905.4 2042.0C909.0 2045.3 914.2 2045.8 916.0 2046.6" stroke-dashoffset="0.0"/>
</g>
<path d="M916 2047.6H1146" stroke="#990000" stroke-width="11" stroke-dasharray="19 19.9" stroke-dashoffset="32.9"/>
<path d="M1144.0 2044.5C1150.0 2044.5 1168.2 2044.2 1180.0 2044.2C1191.8 2044.2 1205.0 2044.6 1215.0 2044.6C1225.0 2044.6 1234.2 2044.3 1240.0 2044.2C1245.8 2044.1 1247.0 2044.5 1250.0 2044.0C1253.0 2043.5 1255.3 2042.8 1258.0 2041.0C1260.7 2039.2 1263.2 2037.6 1266.0 2033.0C1268.8 2028.4 1272.5 2020.4 1275.0 2013.6C1277.5 2006.8 1279.0 1999.3 1281.0 1992.0C1283.0 1984.7 1284.9 1982.5 1287.0 1969.7C1289.1 1956.9 1291.3 1933.3 1293.5 1915.0C1295.7 1896.7 1298.1 1876.5 1300.0 1859.8C1301.9 1843.1 1303.4 1829.7 1305.0 1815.0C1306.6 1800.3 1307.8 1784.1 1309.5 1771.9C1311.2 1759.7 1313.5 1748.8 1315.0 1742.0C1316.5 1735.2 1317.5 1733.4 1318.5 1731.0C1319.5 1728.6 1320.2 1727.8 1321.1 1727.8C1322.0 1727.8 1323.0 1728.6 1324.0 1731.0C1325.0 1733.4 1325.5 1735.2 1327.0 1742.0C1328.5 1748.8 1331.0 1759.7 1332.8 1771.9C1334.5 1784.1 1336.0 1800.3 1337.5 1815.0C1339.0 1829.7 1340.2 1846.1 1342.0 1859.8C1343.8 1873.5 1345.7 1883.6 1348.0 1897.0C1350.3 1910.4 1353.3 1927.9 1356.0 1940.0C1358.7 1952.1 1361.0 1958.0 1364.0 1969.7C1367.0 1981.4 1370.8 2000.0 1374.0 2010.0C1377.2 2020.0 1380.0 2025.2 1383.0 2030.0C1386.0 2034.8 1388.8 2036.8 1392.0 2039.0C1395.2 2041.2 1397.3 2042.1 1402.0 2043.0C1406.7 2043.9 1412.0 2043.9 1420.0 2044.2C1428.0 2044.5 1440.0 2044.6 1450.0 2044.6C1460.0 2044.6 1472.7 2044.4 1480.0 2044.2C1487.3 2044.0 1490.3 2044.3 1494.0 2043.6C1497.7 2042.9 1499.7 2042.3 1502.0 2040.0C1504.3 2037.7 1505.8 2038.3 1508.0 2030.0C1510.2 2021.7 1512.8 2007.8 1515.0 1990.0C1517.2 1972.2 1519.1 1961.0 1521.5 1923.0C1523.9 1885.0 1527.3 1815.7 1529.5 1762.0C1531.7 1708.3 1532.8 1654.7 1534.7 1601.0C1536.6 1547.3 1539.6 1485.2 1541.0 1440.0C1542.4 1394.8 1542.7 1360.7 1543.2 1330.0C1543.8 1299.3 1543.7 1275.2 1544.3 1256.0C1544.9 1236.8 1545.9 1225.5 1546.6 1215.0C1547.3 1204.5 1548.0 1197.6 1548.6 1193.0C1549.2 1188.4 1549.6 1187.4 1550.2 1187.4C1550.8 1187.4 1551.3 1188.4 1552.0 1193.0C1552.7 1197.6 1553.4 1204.5 1554.2 1215.0C1555.0 1225.5 1556.2 1236.8 1557.1 1256.0C1558.0 1275.2 1558.4 1299.3 1559.6 1330.0C1560.8 1360.7 1562.0 1394.8 1564.4 1440.0C1566.8 1485.2 1570.8 1547.3 1574.1 1601.0C1577.4 1654.7 1580.8 1708.3 1584.5 1762.0C1588.2 1815.7 1592.9 1885.5 1596.0 1923.0C1599.1 1960.5 1600.5 1971.0 1603.0 1987.0C1605.5 2003.0 1608.2 2011.2 1611.0 2019.0C1613.8 2026.8 1616.5 2030.5 1620.0 2034.0C1623.5 2037.5 1627.8 2038.8 1632.0 2040.0C1636.2 2041.2 1640.3 2041.2 1645.0 2041.0C1649.7 2040.8 1655.5 2040.3 1660.0 2039.0C1664.5 2037.7 1668.5 2035.5 1672.0 2033.0C1675.5 2030.5 1678.2 2027.7 1681.0 2024.0C1683.8 2020.3 1685.7 2020.2 1689.0 2011.0C1692.3 2001.8 1697.9 1979.8 1701.0 1969.0C1704.1 1958.2 1705.3 1953.0 1707.5 1946.0C1709.7 1939.0 1711.8 1933.2 1714.0 1927.0C1716.2 1920.8 1719.1 1913.0 1721.0 1909.0C1722.9 1905.0 1724.1 1904.2 1725.5 1903.0C1726.9 1901.8 1728.0 1901.6 1729.2 1901.6C1730.5 1901.6 1731.7 1901.8 1733.0 1903.0C1734.3 1904.2 1735.0 1905.0 1737.0 1909.0C1739.0 1913.0 1742.5 1920.5 1744.8 1927.0C1747.1 1933.5 1749.1 1941.0 1751.0 1948.0C1752.9 1955.0 1753.8 1958.5 1756.4 1969.0C1759.0 1979.5 1763.2 2000.8 1766.5 2011.0C1769.8 2021.2 1772.4 2025.2 1776.0 2030.0C1779.6 2034.8 1784.0 2037.8 1788.0 2040.0C1792.0 2042.2 1795.5 2042.3 1800.0 2043.0C1804.5 2043.7 1809.7 2044.1 1815.0 2044.0C1820.3 2043.9 1827.3 2044.2 1832.0 2042.5C1836.7 2040.8 1839.1 2039.2 1843.0 2034.0C1846.9 2028.8 1851.7 2019.0 1855.5 2011.0C1859.3 2003.0 1863.1 1991.8 1866.0 1986.0C1868.9 1980.2 1871.2 1978.3 1873.0 1976.0C1874.8 1973.7 1875.8 1973.0 1877.0 1972.2C1878.2 1971.4 1879.3 1971.0 1880.5 1971.0C1881.7 1971.0 1882.8 1971.5 1884.0 1972.5C1885.2 1973.5 1886.0 1973.9 1888.0 1977.0C1890.0 1980.1 1893.2 1985.3 1896.0 1991.0C1898.8 1996.7 1901.5 2004.5 1904.5 2011.0C1907.5 2017.5 1911.1 2025.5 1914.0 2030.0C1916.9 2034.5 1919.2 2036.0 1922.0 2038.0C1924.8 2040.0 1926.3 2041.1 1931.0 2042.0C1935.7 2042.9 1942.7 2043.2 1950.0 2043.6C1957.3 2044.0 1966.7 2044.5 1975.0 2044.4C1983.3 2044.3 1990.8 2043.2 2000.0 2043.2C2009.2 2043.2 2020.0 2044.4 2030.0 2044.4C2040.0 2044.4 2050.0 2043.4 2060.0 2043.4C2070.0 2043.4 2080.0 2044.6 2090.0 2044.6C2100.0 2044.6 2110.0 2043.4 2120.0 2043.4C2130.0 2043.4 2140.0 2044.5 2150.0 2044.8C2160.0 2045.1 2169.7 2045.1 2180.0 2045.2C2190.3 2045.3 2204.0 2045.5 2212.0 2045.6C2220.0 2045.7 2225.3 2045.6 2228.0 2045.6" stroke="#990000" stroke-width="13"/>
<g stroke="#FF6A00" stroke-width="11" stroke-dasharray="20 19.4">
<path d="M343.0 1176.0C344.0 1172.5 347.1 1161.3 349.0 1155.0C350.9 1148.7 353.0 1139.3 354.5 1138.0" stroke-dasharray="none"/>
<path d="M354.5 1138.0C356.0 1136.7 356.8 1143.5 358.0 1147.0C359.2 1150.5 360.3 1155.0 362.0 1159.0C363.7 1163.0 366.3 1165.0 368.0 1171.0C369.7 1177.0 370.7 1185.0 372.0 1195.0C373.3 1205.0 374.3 1218.7 375.6 1231.0C376.9 1243.3 378.2 1250.8 379.8 1269.0C381.4 1287.2 383.3 1318.2 385.0 1340.0C386.7 1361.8 388.1 1373.3 389.8 1400.0C391.5 1426.7 393.3 1466.7 395.0 1500.0C396.7 1533.3 398.2 1566.7 400.0 1600.0C401.8 1633.3 404.2 1671.7 405.9 1700.0C407.6 1728.3 408.7 1750.2 410.0 1770.0C411.3 1789.8 412.3 1803.7 413.5 1818.7C414.7 1833.7 415.8 1849.6 417.0 1860.0C418.2 1870.4 419.5 1880.2 421.0 1881.0" stroke-dashoffset="0.0"/>
<path d="M421.0 1881.0C422.5 1881.8 424.2 1872.9 426.0 1865.0C427.8 1857.1 430.4 1845.4 432.0 1833.4C433.6 1821.4 434.4 1806.9 435.6 1793.0C436.9 1779.1 438.1 1760.3 439.5 1750.0C440.9 1739.7 442.5 1731.8 443.9 1731.0" stroke-dashoffset="24.8"/>
<path d="M443.9 1731.0C445.3 1730.2 446.6 1738.0 448.0 1745.0C449.4 1752.0 450.7 1760.4 452.0 1772.7C453.3 1785.0 454.6 1804.9 455.8 1818.7C457.1 1832.5 458.3 1841.6 459.5 1855.4C460.7 1869.2 462.0 1886.1 463.2 1901.4C464.4 1916.7 465.6 1934.2 466.8 1947.4C468.0 1960.6 468.8 1970.9 470.5 1980.5C472.2 1990.1 474.2 1999.2 477.0 2005.0C479.8 2010.8 483.5 2014.2 487.0 2015.4" stroke-dashoffset="0.0"/>
<path d="M487.0 2015.4C490.5 2016.6 494.3 2014.2 498.0 2012.0C501.7 2009.8 505.3 2009.6 509.0 2002.5C512.7 1995.4 517.3 1977.3 520.0 1969.4C522.7 1961.5 523.5 1958.1 525.0 1955.0C526.5 1951.9 527.8 1950.2 529.3 1951.0" stroke-dashoffset="15.4"/>
<path d="M529.3 1951.0C530.8 1951.8 531.9 1951.4 534.0 1960.0C536.1 1968.6 539.5 1992.8 542.0 2002.5C544.5 2012.2 546.5 2014.4 549.0 2018.0C551.5 2021.6 554.7 2025.3 557.0 2024.0" stroke-dashoffset="0.0"/>
<path d="M557.0 2024.0C559.3 2022.7 560.7 2018.2 563.0 2010.0C565.3 2001.8 568.4 1991.6 571.0 1975.0C573.6 1958.4 576.4 1927.5 578.6 1910.6C580.8 1893.7 582.0 1882.8 584.0 1873.8C586.0 1864.8 588.3 1855.3 590.6 1856.8" stroke-dashoffset="5.0"/>
<path d="M590.6 1856.8C592.9 1858.3 595.9 1871.6 598.0 1883.0C600.1 1894.4 601.6 1911.5 603.4 1925.3C605.2 1939.1 606.4 1955.3 609.0 1965.7C611.6 1976.1 614.9 1982.3 619.0 1987.8C623.1 1993.3 628.6 1999.4 633.8 1998.8" stroke-dashoffset="0.0"/>
<path d="M633.8 1998.8C639.0 1998.2 646.0 1992.6 650.3 1984.0C654.6 1975.4 657.0 1961.2 659.5 1947.4C662.0 1933.6 663.3 1915.2 665.0 1901.4C666.7 1887.6 667.8 1877.2 669.6 1864.6C671.4 1852.0 673.4 1837.7 676.0 1826.0C678.6 1814.3 682.7 1797.3 685.2 1794.3" stroke-dashoffset="0.6"/>
<path d="M685.2 1794.3C687.7 1791.3 688.9 1802.1 691.0 1808.0C693.1 1813.9 695.8 1827.4 698.0 1829.7" stroke-dashoffset="0.0"/>
<path d="M698.0 1829.7C700.2 1832.0 702.2 1827.0 704.0 1822.0C705.8 1817.0 707.4 1811.3 709.0 1800.0C710.6 1788.7 712.3 1769.6 713.7 1754.3C715.1 1739.0 716.4 1720.2 717.4 1708.4C718.4 1696.6 718.6 1695.1 719.7 1683.3C720.9 1671.5 722.9 1649.0 724.3 1637.4C725.7 1625.9 726.6 1619.4 728.0 1614.0C729.4 1608.6 731.1 1605.0 732.6 1605.0" stroke-dashoffset="25.1"/>
<path d="M732.6 1605.0C734.1 1605.0 735.6 1608.6 737.0 1614.0C738.4 1619.4 739.3 1625.9 740.9 1637.4C742.5 1648.9 744.3 1669.6 746.4 1683.0C748.5 1696.4 750.9 1705.0 753.2 1717.6C755.5 1730.2 758.0 1745.2 760.2 1758.8C762.5 1772.4 764.7 1786.6 766.7 1799.3C768.7 1812.0 770.7 1827.7 772.2 1835.0C773.7 1842.3 774.4 1842.5 775.5 1843.0" stroke-dashoffset="0.0"/>
<path d="M775.5 1843.0C776.6 1843.5 777.6 1841.5 779.0 1838.0C780.4 1834.5 782.4 1830.3 784.0 1822.0C785.6 1813.7 787.3 1800.1 788.7 1788.0C790.1 1775.9 791.4 1762.4 792.4 1749.6C793.4 1736.8 793.9 1725.1 795.0 1711.0C796.1 1696.9 797.6 1676.0 798.8 1665.0C800.0 1654.0 800.8 1650.0 802.0 1645.0C803.2 1640.0 804.7 1635.0 806.0 1635.0" stroke-dashoffset="4.6"/>
<path d="M806.0 1635.0C807.3 1635.0 808.3 1638.3 810.0 1645.0C811.7 1651.7 814.2 1666.7 816.0 1675.0C817.8 1683.3 819.4 1690.2 821.0 1695.0C822.6 1699.8 823.7 1703.5 825.4 1703.5" stroke-dashoffset="0.0"/>
<path d="M825.4 1703.5C827.1 1703.5 829.1 1700.6 831.0 1695.0C832.9 1689.4 835.2 1676.3 837.0 1670.0C838.8 1663.7 840.5 1657.8 842.0 1657.0" stroke-dashoffset="9.1"/>
<path d="M842.0 1657.0C843.5 1656.2 844.8 1660.6 846.0 1665.0C847.2 1669.4 848.3 1674.4 849.3 1683.3C850.3 1692.2 850.8 1700.3 852.0 1718.4C853.2 1736.5 855.0 1766.0 856.7 1792.0C858.4 1818.0 860.5 1853.2 862.2 1874.6C863.9 1896.0 865.3 1905.3 866.8 1920.6C868.3 1935.9 869.9 1952.7 871.4 1966.5C872.9 1980.3 873.7 1992.5 876.0 2003.3C878.3 2014.0 881.2 2024.2 885.2 2031.0C889.2 2037.8 894.9 2041.2 900.0 2043.8C905.1 2046.4 913.3 2046.1 916.0 2046.6" stroke-dashoffset="0.0"/>
</g>
<path d="M916 2047.7H1146" stroke="#FF6A00" stroke-width="11" stroke-dasharray="19 19.9" stroke-dashoffset="0"/>
<path d="M1144.6 2047.1C1150.6 2047.1 1168.8 2047.0 1180.6 2047.0C1192.4 2047.0 1205.6 2047.2 1215.6 2047.2C1225.6 2047.2 1234.8 2047.0 1240.6 2047.0C1246.4 2046.9 1247.6 2047.1 1250.6 2046.9C1253.6 2046.6 1255.9 2046.4 1258.6 2045.5C1261.3 2044.7 1263.8 2044.0 1266.6 2041.9C1269.4 2039.8 1273.1 2036.2 1275.6 2033.1C1278.1 2029.9 1279.6 2026.6 1281.6 2023.2C1283.6 2019.9 1285.5 2018.9 1287.6 2013.1C1289.7 2007.2 1291.9 1996.5 1294.1 1988.2C1296.3 1979.9 1298.7 1970.7 1300.6 1963.1C1302.5 1955.5 1304.0 1949.4 1305.6 1942.7C1307.2 1936.0 1308.4 1928.6 1310.1 1923.1C1311.8 1917.5 1314.1 1912.6 1315.6 1909.5C1317.1 1906.4 1318.1 1905.6 1319.1 1904.5C1320.1 1903.4 1320.8 1903.0 1321.7 1903.0C1322.6 1903.0 1323.6 1903.4 1324.6 1904.5C1325.6 1905.6 1326.1 1906.4 1327.6 1909.5C1329.1 1912.6 1331.6 1917.5 1333.4 1923.1C1335.1 1928.6 1336.6 1936.0 1338.1 1942.7C1339.6 1949.4 1340.8 1956.9 1342.6 1963.1C1344.3 1969.3 1346.3 1973.9 1348.6 1980.0C1350.9 1986.1 1353.9 1994.1 1356.6 1999.6C1359.3 2005.1 1361.6 2007.8 1364.6 2013.1C1367.6 2018.4 1371.4 2026.8 1374.6 2031.4C1377.8 2036.0 1380.6 2038.3 1383.6 2040.5C1386.6 2042.7 1389.4 2043.6 1392.6 2044.6C1395.8 2045.6 1397.9 2046.0 1402.6 2046.4C1407.3 2046.8 1412.6 2046.9 1420.6 2047.0C1428.6 2047.1 1440.6 2047.2 1450.6 2047.2C1460.6 2047.2 1473.3 2047.1 1480.6 2047.0C1487.9 2046.9 1490.9 2047.0 1494.6 2046.7C1498.3 2046.4 1500.3 2046.1 1502.6 2045.1C1504.9 2044.0 1506.4 2044.3 1508.6 2040.5C1510.8 2036.7 1513.3 2030.4 1515.6 2022.3C1517.8 2014.2 1519.7 2009.1 1522.1 1991.8C1524.5 1974.5 1527.9 1943.0 1530.1 1918.6C1532.3 1894.2 1533.4 1869.7 1535.3 1845.3C1537.2 1820.9 1540.2 1792.6 1541.6 1772.1C1543.0 1751.5 1543.2 1736.0 1543.8 1722.0C1544.3 1708.1 1544.3 1697.1 1544.9 1688.3C1545.5 1679.6 1546.5 1674.5 1547.2 1669.7C1547.9 1664.9 1548.6 1661.8 1549.2 1659.7C1549.8 1657.6 1550.2 1657.1 1550.8 1657.1C1551.4 1657.1 1551.9 1657.6 1552.6 1659.7C1553.3 1661.8 1554.0 1664.9 1554.8 1669.7C1555.6 1674.5 1556.8 1679.6 1557.7 1688.3C1558.6 1697.1 1559.0 1708.1 1560.2 1722.0C1561.4 1736.0 1562.6 1751.5 1565.0 1772.1C1567.4 1792.6 1571.3 1820.9 1574.7 1845.3C1578.0 1869.7 1581.4 1894.2 1585.1 1918.6C1588.8 1943.0 1593.5 1974.8 1596.6 1991.8C1599.7 2008.9 1601.1 2013.7 1603.6 2021.0C1606.1 2028.2 1608.8 2031.9 1611.6 2035.5C1614.4 2039.1 1617.1 2040.7 1620.6 2042.3C1624.1 2043.9 1628.4 2044.5 1632.6 2045.1C1636.8 2045.6 1640.9 2045.6 1645.6 2045.5C1650.3 2045.4 1656.1 2045.2 1660.6 2044.6C1665.1 2044.0 1669.1 2043.0 1672.6 2041.9C1676.1 2040.7 1678.8 2039.5 1681.6 2037.8C1684.4 2036.1 1686.3 2036.0 1689.6 2031.9C1692.9 2027.7 1698.5 2017.7 1701.6 2012.8C1704.7 2007.8 1705.9 2005.5 1708.1 2002.3C1710.3 1999.1 1712.3 1996.5 1714.6 1993.7C1716.8 1990.8 1719.7 1987.3 1721.6 1985.5C1723.5 1983.6 1724.7 1983.3 1726.1 1982.7C1727.5 1982.2 1728.5 1982.1 1729.8 1982.1C1731.0 1982.1 1732.3 1982.2 1733.6 1982.7C1734.9 1983.3 1735.6 1983.6 1737.6 1985.5C1739.6 1987.3 1743.1 1990.7 1745.4 1993.7C1747.7 1996.6 1749.7 2000.0 1751.6 2003.2C1753.5 2006.4 1754.4 2008.0 1757.0 2012.8C1759.6 2017.5 1763.8 2027.2 1767.1 2031.9C1770.4 2036.5 1773.0 2038.3 1776.6 2040.5C1780.2 2042.7 1784.6 2044.1 1788.6 2045.1C1792.6 2046.1 1796.1 2046.1 1800.6 2046.4C1805.1 2046.7 1810.3 2046.9 1815.6 2046.9C1820.9 2046.9 1827.9 2047.0 1832.6 2046.2C1837.3 2045.4 1839.7 2044.7 1843.6 2042.3C1847.5 2039.9 1852.3 2035.5 1856.1 2031.9C1859.9 2028.2 1863.7 2023.2 1866.6 2020.5C1869.5 2017.8 1871.8 2017.0 1873.6 2015.9C1875.4 2014.9 1876.3 2014.6 1877.6 2014.2C1878.8 2013.8 1879.9 2013.7 1881.1 2013.7C1882.3 2013.7 1883.3 2013.9 1884.6 2014.4C1885.8 2014.8 1886.6 2015.0 1888.6 2016.4C1890.6 2017.8 1893.8 2020.2 1896.6 2022.8C1899.3 2025.4 1902.1 2028.9 1905.1 2031.9C1908.1 2034.8 1911.7 2038.5 1914.6 2040.5C1917.5 2042.6 1919.8 2043.2 1922.6 2044.2C1925.4 2045.1 1926.9 2045.6 1931.6 2046.0C1936.3 2046.4 1943.3 2046.5 1950.6 2046.7C1957.9 2046.9 1967.3 2047.1 1975.6 2047.1C1983.9 2047.0 1991.4 2046.5 2000.6 2046.5C2009.8 2046.5 2020.6 2047.1 2030.6 2047.1C2040.6 2047.1 2050.6 2046.6 2060.6 2046.6C2070.6 2046.6 2080.6 2047.2 2090.6 2047.2C2100.6 2047.2 2110.6 2046.6 2120.6 2046.6C2130.6 2046.6 2140.6 2047.1 2150.6 2047.3C2160.6 2047.4 2170.3 2047.4 2180.6 2047.4C2190.9 2047.4 2204.6 2047.4 2212.6 2047.4C2220.6 2047.4 2225.9 2047.4 2228.6 2047.4" stroke="#FF6A00" stroke-width="13"/>
</g>
<line x1="725.8" y1="1139.2" x2="838.1" y2="1031.0" stroke="#000" stroke-width="6.0"/>
<polygon points="865.5,1004.6 850.9,1047.1 822.5,1017.6" fill="#000"/>
<line x1="809.4" y1="1157.5" x2="888.9" y2="1100.6" stroke="#000" stroke-width="6.0"/>
<polygon points="919.8,1078.5 899.2,1118.4 875.3,1085.1" fill="#000"/>
<line x1="848.8" y1="1210.4" x2="900.2" y2="1204.5" stroke="#000" stroke-width="6.0"/>
<polygon points="938.0,1200.2 900.6,1225.1 895.9,1184.4" fill="#000"/>
<text x="472.6" y="948.2" font-size="52.00"><tspan>λ</tspan><tspan dy="13.0" font-size="34.68">em</tspan><tspan x="548.3" dy="-13.0">= </tspan><tspan x="594.0" letter-spacing="0.75">545 nm</tspan></text>
<text x="1846.9" y="937.1" font-size="52.00"><tspan>λ</tspan><tspan dy="13.0" font-size="34.68">exc</tspan><tspan x="1926.8" dy="-13.0">= </tspan><tspan x="1972.0" letter-spacing="1.1">375 nm</tspan></text>
<text x="853.8" y="991.9" font-size="52.00"><tspan dy="-17.2" font-size="34.68">7</tspan><tspan dy="17.2">F</tspan><tspan dy="12.0" font-size="34.68">6</tspan><tspan dy="-12.0"> </tspan><tspan dx="-17.0" font-size="82.58">→</tspan><tspan dx="-13.6" dy="-17.2" font-size="34.68">5</tspan><tspan dy="17.2">L</tspan><tspan dy="12.0" font-size="34.68">9</tspan><tspan dy="-12.0">, </tspan><tspan dx="-2.5" dy="-17.2" font-size="34.68">5</tspan><tspan dy="17.2">D</tspan><tspan dy="12.0" font-size="34.68">2</tspan><tspan dy="-12.0">, </tspan><tspan dx="2.4" dy="-17.2" font-size="34.68">5</tspan><tspan dy="17.2">G</tspan><tspan dy="12.0" font-size="34.68">5</tspan></text>
<text x="929.9" y="1093.7" font-size="52.00"><tspan dy="-17.2" font-size="34.68">7</tspan><tspan dy="17.2">F</tspan><tspan dy="12.0" font-size="34.68">6</tspan><tspan dy="-12.0"> </tspan><tspan dx="-17.0" font-size="82.58">→</tspan><tspan dx="-13.6" dy="-17.2" font-size="34.68">5</tspan><tspan dy="17.2">L</tspan><tspan dy="12.0" font-size="34.68">10</tspan></text>
<text x="946.3" y="1212.8" font-size="52.00"><tspan dy="-17.2" font-size="34.68">7</tspan><tspan dy="17.2">F</tspan><tspan dy="12.0" font-size="34.68">6</tspan><tspan dy="-12.0"> </tspan><tspan dx="-17.0" font-size="82.58">→</tspan><tspan dx="-13.6" dy="-17.2" font-size="34.68">5</tspan><tspan dy="17.2">G</tspan><tspan dy="12.0" font-size="34.68">6</tspan><tspan dy="-12.0">, </tspan><tspan dx="-2" dy="-17.2" font-size="34.68">5</tspan><tspan dy="17.2">D</tspan><tspan dy="12.0" font-size="34.68">3</tspan></text>
<text x="1456.6" y="1137.8" font-size="52.00"><tspan dy="-17.2" font-size="34.68">5</tspan><tspan dy="17.2">D</tspan><tspan dx="2.2" dy="12.0" font-size="34.68">4</tspan><tspan dx="-17.0" dy="-12.0" font-size="82.58">→</tspan><tspan dx="-13.6" dy="-17.2" font-size="34.68">7</tspan><tspan dy="17.2">F</tspan><tspan dx="2.2" dy="12.0" font-size="34.68">5</tspan></text>
<text x="1208.6" y="1641.7" font-size="52.00"><tspan dy="-17.2" font-size="34.68">5</tspan><tspan dy="17.2">D</tspan><tspan dx="1.8" dy="12.0" font-size="34.68">4</tspan><tspan dx="-17.0" dy="-12.0" font-size="82.58">→</tspan><tspan dx="-13.6" dy="-17.2" font-size="34.68">7</tspan><tspan dy="17.2">F</tspan><tspan dx="1.8" dy="12.0" font-size="34.68">6</tspan></text>
<text x="1631.8" y="1829.1" font-size="52.00" font-family='"Liberation Serif", "Times New Roman", Times, serif'><tspan dy="-17.2" font-size="34.68">5</tspan><tspan dy="17.2">D</tspan><tspan dy="12.0" font-size="34.68">4</tspan><tspan dx="-17.0" dy="-12.0" font-size="82.58">→</tspan><tspan dx="-13.6" dy="-17.2" font-size="34.68">7</tspan><tspan dy="17.2">F</tspan><tspan dy="12.0" font-size="34.68">4</tspan></text>
<text x="1814.6" y="1928.7" font-size="52.00"><tspan dy="-17.2" font-size="34.68">5</tspan><tspan dy="17.2">D</tspan><tspan dx="2.3" dy="12.0" font-size="34.68">4</tspan><tspan dx="-17.0" dy="-12.0" font-size="82.58">→</tspan><tspan dx="-13.6" dy="-17.2" font-size="34.68">7</tspan><tspan dy="17.2">F</tspan><tspan dx="2.3" dy="12.0" font-size="34.68">3</tspan></text>
<text transform="translate(473 1475.6) rotate(-90)" font-size="51.50"><tspan dy="-17.0" font-size="34.35">7</tspan><tspan dy="17.0">F</tspan><tspan dy="11.8" font-size="34.35">6</tspan><tspan dy="-11.8"> </tspan><tspan dx="-16.8" font-size="81.78">→</tspan><tspan dx="-13.5" dy="-17.0" font-size="34.35">5</tspan><tspan dy="17.0">I</tspan><tspan dy="11.8" font-size="34.35">8,</tspan><tspan dy="-11.8"> </tspan><tspan dy="-17.0" font-size="34.35">5</tspan><tspan dy="17.0">F</tspan><tspan dy="11.8" font-size="34.35">4,5</tspan><tspan dy="-11.8"> </tspan><tspan dx="-16.8" font-size="81.78">→</tspan><tspan dx="-13.5" dy="-17.0" font-size="34.35">5</tspan><tspan dy="17.0">H</tspan><tspan dy="11.8" font-size="34.35">4</tspan></text>
<text transform="translate(537 1841) rotate(-90)" font-size="51.50"><tspan dy="-17.0" font-size="34.35">7</tspan><tspan dy="17.0">F</tspan><tspan dy="11.8" font-size="34.35">6</tspan><tspan dy="-11.8"> </tspan><tspan dx="-16.8" font-size="81.78">→</tspan><tspan dx="-13.5" dy="-17.0" font-size="34.35">5</tspan><tspan dy="17.0">H</tspan><tspan dy="11.8" font-size="34.35">5,6</tspan></text>
<text transform="translate(617 1634.9) rotate(-90)" font-size="51.50"><tspan dy="-17.0" font-size="34.35">7</tspan><tspan dy="17.0">F</tspan><tspan dy="11.8" font-size="34.35">6</tspan><tspan dy="-11.8"> </tspan><tspan dx="-16.8" font-size="81.78">→</tspan><tspan dx="-13.5" dy="-17.0" font-size="34.35">5</tspan><tspan dy="17.0">H</tspan><tspan dy="11.8" font-size="34.35">7</tspan></text>
<text transform="translate(677.8 1515.6) rotate(-90)" font-size="51.50"><tspan dy="-17.0" font-size="34.35">7</tspan><tspan dy="17.0">F</tspan><tspan dy="11.8" font-size="34.35">6</tspan><tspan dy="-11.8"> </tspan><tspan dx="-16.8" font-size="81.78">→</tspan><tspan dx="-13.5" dy="-17.0" font-size="34.35">5</tspan><tspan dy="17.0">L</tspan><tspan dy="11.8" font-size="34.35">7,8</tspan><tspan dy="-11.8">, </tspan><tspan dy="-17.0" font-size="34.35">7</tspan><tspan dy="17.0">F</tspan><tspan dy="11.8" font-size="34.35">6</tspan><tspan dy="-11.8"> </tspan><tspan dx="-16.8" font-size="81.78">→</tspan><tspan dx="-13.5" dy="-17.0" font-size="34.35">5</tspan><tspan dy="17.0">L</tspan><tspan dy="11.8" font-size="34.35">7,8</tspan></text>
<g font-weight="bold">
<text x="699.6" y="309.8" font-size="66.67">Solid Ca-doped</text>
<text x="378.0" y="468.0" font-size="66.67"><tspan>cit-Ca</tspan><tspan dy="-20.0" font-size="42.67">2+</tspan><tspan dy="20.0">:TbPO</tspan><tspan dy="15.7" font-size="42.67">4</tspan><tspan dy="-15.7">·nH</tspan><tspan dy="15.7" font-size="42.67">2</tspan><tspan dy="-15.7">O </tspan><tspan letter-spacing="-0.42">nanoparticles</tspan></text>
</g>
<text x="497.6" y="810.2" font-size="65.8">Excitation spectra</text>
<text x="1473.5" y="810.5" font-size="66.1">Emission spectra</text>
<line x1="1592" y1="201.2" x2="1702" y2="201.2" stroke="#000000" stroke-width="10.2" stroke-linecap="round"/>
<text x="1713.4" y="219.7" font-size="58.0">Ca 0.01M 7 days</text>
<line x1="1592" y1="333.6" x2="1702" y2="333.6" stroke="#0070C0" stroke-width="10.2" stroke-linecap="round"/>
<text x="1713.4" y="352.1" font-size="58.0">Ca 0.01M 96 h</text>
<line x1="1592" y1="466.0" x2="1702" y2="466.0" stroke="#990000" stroke-width="10.2" stroke-linecap="round"/>
<text x="1713.4" y="484.5" font-size="58.0">Ca 0.01M 24 h</text>
<line x1="1592" y1="598.4" x2="1702" y2="598.4" stroke="#FF6A00" stroke-width="10.2" stroke-linecap="round"/>
<text x="1713.4" y="616.9" font-size="58.0">Ca 0.01M 4 h</text>
</svg>
</body></html>
